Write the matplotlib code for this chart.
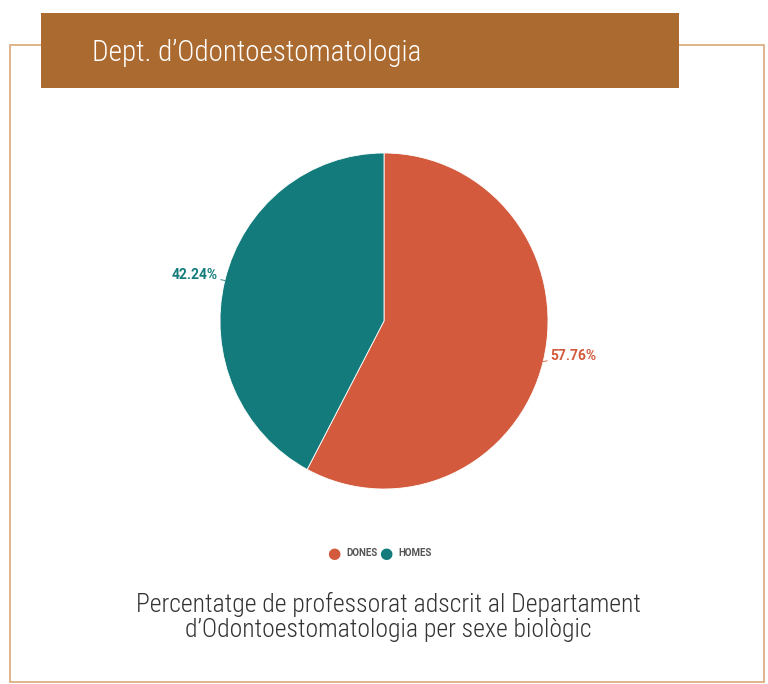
import matplotlib
matplotlib.use('Agg')
import matplotlib.pyplot as plt
from matplotlib import font_manager
from matplotlib.patches import Rectangle
import numpy as np

# Data
categories = ['DONES', 'HOMES']
values = [57.76, 42.24]
colors = ['#d35a3c', '#137b7b']
title = 'Dept. d\u2019Odontoestomatologia'
caption = 'Percentatge de professorat adscrit al Departament\nd\u2019Odontoestomatologia per sexe biol\u00f2gic'

# pick a condensed font if one is installed
installed = {f.name for f in font_manager.fontManager.ttflist}
cond = 'Roboto'
for name in ['Roboto Condensed', 'Liberation Sans Narrow', 'Open Sans Condensed']:
    if name in installed:
        cond = name
        break

W, H = 768, 684
fig = plt.figure(figsize=(W / 100, H / 100), dpi=100)
fig.patch.set_facecolor('white')

def fx(x):
    return x / W

def fy(y):
    return 1 - y / H

# outer frame
fig.patches.append(Rectangle((fx(10), fy(682)), fx(754), (682 - 45) / H,
                             transform=fig.transFigure, fill=False,
                             edgecolor='#d9a877', linewidth=1.2))
# header band
fig.patches.append(Rectangle((fx(41), fy(88)), fx(638), 75 / H,
                             transform=fig.transFigure, facecolor='#ab6a30',
                             edgecolor='none'))
fig.text(fx(92), fy(53), title, color='white', fontsize=21,
         family=cond, fontweight='light', va='center', ha='left')

# pie (slightly taller than wide, as in the original)
cx, cy, rx, ry = 384, 321, 164, 168
ax = fig.add_axes([fx(cx - rx), fy(cy + ry), 2 * rx / W, 2 * ry / H])
wedges, _ = ax.pie(values, colors=colors, startangle=90, counterclock=False,
                   wedgeprops=dict(edgecolor='white', linewidth=0.6))
ax.set_xlim(-1, 1)
ax.set_ylim(-1, 1)
ax.set_aspect('auto')
ax.axis('off')

for w, v, c in zip(wedges, values, colors):
    ang = np.deg2rad((w.theta1 + w.theta2) / 2)
    x0, y0 = np.cos(ang), np.sin(ang)
    side = 1 if x0 > 0 else -1
    ax.annotate(f'{v:.2f}%', xy=(x0, y0), xytext=(side * 5, 4),
                textcoords='offset points',
                color=c, fontsize=10, fontweight='bold', family='Roboto',
                ha='left' if side > 0 else 'right', va='center',
                annotation_clip=False,
                arrowprops=dict(arrowstyle='-', color=c, lw=0.6,
                                shrinkA=0, shrinkB=0))

# legend
lx = [334, 386]
for x, cat, c in zip(lx, categories, colors):
    fig.text(fx(x), fy(553), '\u25cf', color=c, fontsize=11, ha='center', va='center',
             family='DejaVu Sans')
    fig.text(fx(x + 12), fy(553), cat, color='#555555', fontsize=7,
             fontweight='bold', family='Roboto', ha='left', va='center')

fig.text(fx(388), fy(617), caption, color='#333333', fontsize=18.5,
         family=cond, fontweight='light', ha='center', va='center', linespacing=1.08)

fig.savefig('out.png', dpi=100, facecolor='white')
